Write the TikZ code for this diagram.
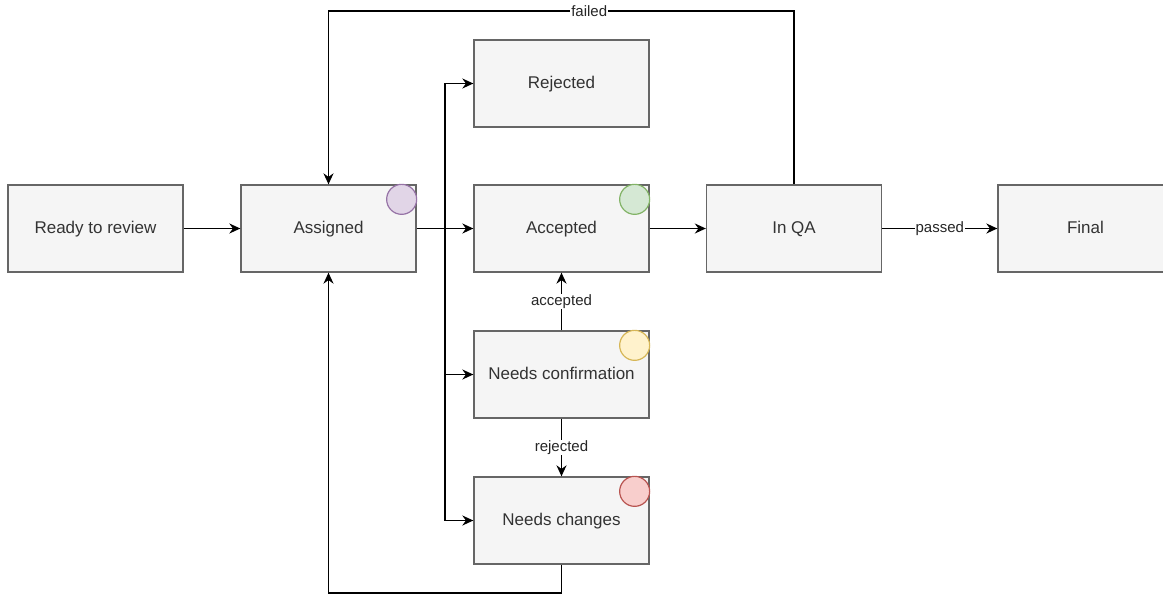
\documentclass[tikz,border=0pt]{standalone}
\usepackage{fontspec}
\setmainfont{Liberation Sans}
\usetikzlibrary{arrows.meta}
\definecolor{boxfill}{HTML}{F5F5F5}
\definecolor{boxline}{HTML}{666666}
\definecolor{boxtext}{HTML}{333333}
\definecolor{purfill}{HTML}{E1D5E7}\definecolor{purline}{HTML}{9673A6}
\definecolor{grnfill}{HTML}{D5E8D4}\definecolor{grnline}{HTML}{82B366}
\definecolor{yelfill}{HTML}{FFF2CC}\definecolor{yelline}{HTML}{D6B656}
\definecolor{redfill}{HTML}{F8CECC}\definecolor{redline}{HTML}{B85450}
\tikzset{
  statebox/.style={draw=boxline, fill=boxfill, line width=1.3pt, minimum width=175pt, minimum height=87pt, inner sep=0pt, text=boxtext, text height=1em, text depth=0.1em, font=\fontsize{17}{20}\selectfont},
  dot/.style={circle, line width=1.2pt, minimum size=30pt, inner sep=0pt},
  arr/.style={draw=black, line width=1.6pt, -{Stealth[length=11pt,width=10pt]}},
  plain/.style={draw=black, line width=1.6pt},
  lbl/.style={fill=white, inner sep=1pt, text=black!85, font=\fontsize{15}{17}\selectfont}
}
\begin{document}
\begin{tikzpicture}[x=1pt,y=-1pt]
\useasboundingbox[fill=white] (0,0) rectangle (1163,595);
\node[statebox] (ready) at (95.5,228.5) {Ready to review};
\node[statebox] (assigned) at (328.5,228.5) {Assigned};
\node[statebox] (rejected) at (561.5,83.5) {Rejected};
\node[statebox] (accepted) at (561.5,228.5) {Accepted};
\node[statebox] (inqa) at (794,228.5) {In QA};
\node[statebox] (final) at (1085.5,228.5) {Final};
\node[statebox] (needconf) at (561.5,374.5) {Needs confirmation};
\node[statebox] (needchg) at (561.5,520.5) {Needs changes};
\node[dot, draw=purline, fill=purfill] (dotA) at ([xshift=-15pt,yshift=-15pt]assigned.north east) {};
\node[dot, draw=grnline, fill=grnfill] (dotB) at ([xshift=-15pt,yshift=-15pt]accepted.north east) {};
\node[dot, draw=yelline, fill=yelfill] (dotC) at ([xshift=-15pt,yshift=-15pt]needconf.north east) {};
\node[dot, draw=redline, fill=redfill] (dotD) at ([xshift=-15pt,yshift=-15pt]needchg.north east) {};
\coordinate (br) at (445,228.5);
\coordinate (topy) at (0,11);
\coordinate (boty) at (0,593);
\draw[arr] (ready) -- (assigned);
\draw[plain] (assigned.east) -- (br);
\draw[arr] (br) |- (rejected.west);
\draw[arr] (br) -- (accepted.west);
\draw[arr] (br) |- (needconf.west);
\draw[arr] (br) |- (needchg.west);
\draw[arr] (accepted) -- (inqa);
\draw[arr] (inqa) -- node[lbl]{passed} (final);
\draw[arr] (needconf) -- node[lbl]{accepted} (accepted);
\draw[arr] (needconf) -- node[lbl]{rejected} (needchg);
\draw[arr] (inqa.north) -- (inqa.north |- topy) -- node[lbl,pos=0.44]{failed} (assigned.north |- topy) -- (assigned.north);
\draw[arr] (needchg.south) -- (needchg.south |- boty) -- (assigned.south |- boty) -- (assigned.south);
\end{tikzpicture}
\end{document}
